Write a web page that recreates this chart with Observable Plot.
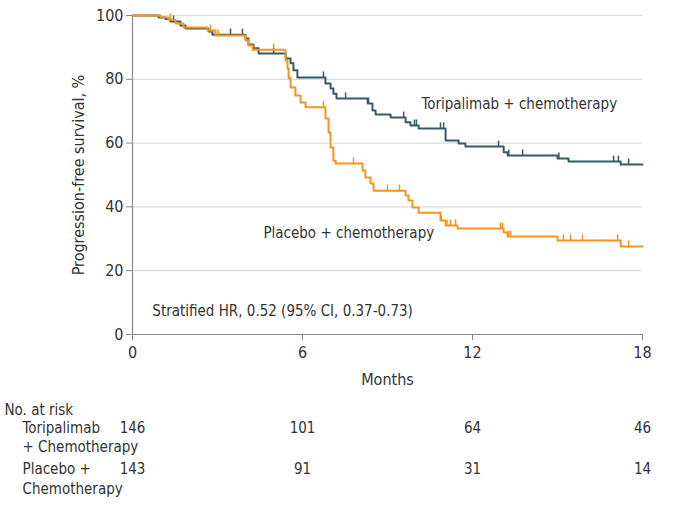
<!DOCTYPE html>
<html><head><meta charset="utf-8">
<script src="https://cdn.jsdelivr.net/npm/d3@7"></script>
<script src="https://cdn.jsdelivr.net/npm/@observablehq/plot@0.6"></script>
<style>body{margin:0;background:#fff}</style></head>
<body><div id="chart"></div>
<script>
// ---- data ----
const monthTicks = [0, 6, 12, 18];
const yTicks = [0, 20, 40, 60, 80, 100];

const toriTimes = [0.92,1.16,1.34,1.69,1.87,2.68,2.82,3.99,4.09,4.27,4.45,5.41,5.58,5.68,5.82,6.81,6.99,7.09,7.20,8.30,8.47,8.58,9.11,9.64,9.81,10.10,11.05,11.51,11.75,13.10,13.24,15.00,15.39,17.23];
const toriSurv  = [99.4,98.9,98.1,96.9,95.9,95.0,94.0,92.8,90.9,89.7,88.1,86.5,85.0,82.8,80.6,78.7,77.1,75.5,74.0,72.4,70.2,69.0,68.0,66.5,65.5,64.6,60.8,59.9,58.9,57.1,56.1,55.2,54.2,53.3];
const toriCensor = [1.45,3.46,3.88,4.98,6.74,7.52,8.33,9.57,9.95,10.02,10.87,10.98,12.92,13.28,13.77,15.05,16.98,17.15,17.51];

const placTimes = [0.99,1.27,1.52,1.80,2.65,2.93,3.99,4.09,4.24,5.40,5.47,5.51,5.58,5.75,5.93,6.11,6.81,6.92,6.99,7.09,7.17,8.12,8.22,8.40,8.51,9.64,9.74,9.88,10.10,10.87,11.05,11.47,13.10,13.24,15.00,17.23];
const placSurv  = [99.4,98.7,97.5,96.2,95.3,93.7,92.2,90.6,89.3,85.9,83.4,80.3,77.4,74.9,72.7,71.2,67.7,63.3,58.6,54.5,53.6,51.4,49.2,47.3,45.1,43.6,42.0,39.8,38.2,35.7,34.2,33.2,32.0,30.7,29.5,27.6];
const placCensor = [1.34,2.75,3.02,4.98,6.74,7.80,9.00,9.42,10.90,11.10,11.22,11.40,12.99,13.06,13.28,13.34,15.21,15.46,15.88,17.12,17.51];

const toriRisk = [146, 101, 64, 46];
const placRisk = [143, 91, 31, 14];
const toriName = "Toripalimab + chemotherapy";
const placName = "Placebo + chemotherapy";
const hrText = "Stratified HR, 0.52 (95% CI, 0.37-0.73)";
const riskTitle = "No. at risk";
const toriRowLabel = ["Toripalimab", "+ Chemotherapy"];
const placRowLabel = ["Placebo +", "Chemotherapy"];

// ---- build tables ----
const teal = "#355b67", orange = "#f7941d";
function curve(times, surv) {
  const pts = [{t: 0, s: 100}];
  times.forEach((t, i) => pts.push({t, s: surv[i]}));
  pts.push({t: 18, s: surv[surv.length - 1]});
  return pts;
}
function survAt(times, surv, t) {
  let s = 100;
  for (let i = 0; i < times.length; i++) if (times[i] <= t) s = surv[i];
  return s;
}
const toriCurve = curve(toriTimes, toriSurv);
const placCurve = curve(placTimes, placSurv);
const toriC = toriCensor.map(t => ({t, s: survAt(toriTimes, toriSurv, t)}));
const placC = placCensor.map(t => ({t, s: survAt(placTimes, placSurv, t)}));
const tickUp = {draw(ctx, size) { const h = Math.sqrt(size / Math.PI) * 2; ctx.moveTo(0, 0); ctx.lineTo(0, -h); }};

const leftLabel = (txt, dx, dy) => Plot.text([txt], {frameAnchor: "bottom-left", dx, dy, text: d => d, textAnchor: "start", fill: "#333"});

const font = "'Liberation Sans Narrow','DejaVu Sans Condensed',sans-serif";
const plot = Plot.plot({
  width: 673, height: 514,
  marginLeft: 132, marginRight: 31, marginTop: 15, marginBottom: 180,
  style: {fontFamily: font, fontSize: "15px", color: "#333", background: "#fff", overflow: "visible"},
  x: {domain: [0, 18]},
  y: {domain: [0, 100]},
  marks: [
    Plot.gridY(yTicks.filter(d => d > 0), {stroke: "#dcdcdc", strokeOpacity: 1, strokeWidth: 1.2}),
    Plot.axisY({ticks: yTicks, tickSize: 6, tickPadding: 3, stroke: "#888", fill: "#333", fontSize: 16,
      label: "Progression-free survival, %", labelAnchor: "center", labelArrow: "none", labelOffset: 60}),
    Plot.axisX({ticks: monthTicks, tickSize: 6, tickPadding: 6, stroke: "#888", fill: "#333", fontSize: 16,
      label: "Months", labelAnchor: "center", labelArrow: "none", labelOffset: 50}),
    Plot.ruleX([0], {stroke: "#888", strokeWidth: 1.2}),
    Plot.ruleY([0], {stroke: "#888", strokeWidth: 1.2}),
    Plot.line(toriCurve, {x: "t", y: "s", curve: "step-after", stroke: teal, strokeWidth: 2}),
    Plot.dot(toriC, {x: "t", y: "s", symbol: tickUp, r: 3, stroke: teal, strokeWidth: 1.5}),
    Plot.line(placCurve, {x: "t", y: "s", curve: "step-after", stroke: orange, strokeWidth: 2}),
    Plot.dot(placC, {x: "t", y: "s", symbol: tickUp, r: 3, stroke: orange, strokeWidth: 1.5}),
    Plot.text([toriName], {x: 10.2, y: 72.1, text: d => d, textAnchor: "start", fill: "#333"}),
    Plot.text([placName], {x: 4.62, y: 31.7, text: d => d, textAnchor: "start", fill: "#333"}),
    Plot.text([hrText], {x: 0.7, y: 7.2, text: d => d, textAnchor: "start", fill: "#333"}),
    // number at risk
    leftLabel(riskTitle, -128, 80),
    leftLabel(toriRowLabel[0], -110, 98),
    leftLabel(toriRowLabel[1], -110, 117),
    leftLabel(placRowLabel[0], -110, 139),
    leftLabel(placRowLabel[1], -110, 159),
    Plot.text(toriRisk, {x: (d, i) => monthTicks[i], frameAnchor: "bottom", dy: 98, text: d => String(d), fill: "#333"}),
    Plot.text(placRisk, {x: (d, i) => monthTicks[i], frameAnchor: "bottom", dy: 139, text: d => String(d), fill: "#333"})
  ]
});
document.getElementById("chart").append(plot);
</script>
</body></html>
